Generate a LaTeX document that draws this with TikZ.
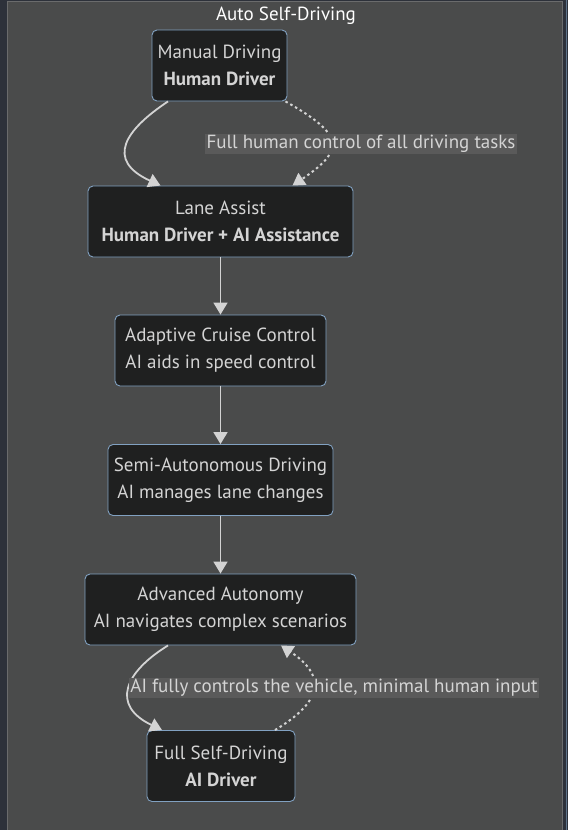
\documentclass[tikz,border=0pt]{standalone}
\usepackage{fontspec}
\setmainfont{PT Sans}
\usetikzlibrary{arrows.meta,calc}
\definecolor{outerbg}{HTML}{2D313A}
\definecolor{clusterbg}{HTML}{4A4B4B}
\definecolor{clusterline}{HTML}{6A6B6C}
\definecolor{nodefill}{HTML}{1F2020}
\definecolor{nodeline}{HTML}{81A1C1}
\definecolor{txt}{HTML}{D4D4D4}
\definecolor{edgecol}{HTML}{D3D3D3}
\definecolor{lblbg}{HTML}{5A5A5A}
\tikzset{
  stage/.style={draw=nodeline, fill=nodefill, line width=0.9pt, rounded corners=5pt,
    text=txt, align=center, minimum height=71pt, inner sep=0pt,
    font=\fontsize{19}{27}\selectfont},
  elabel/.style={fill=lblbg, text=txt, inner sep=1.2pt, font=\fontsize{19}{21}\selectfont},
  link/.style={draw=edgecol, line width=1.8pt, -{Triangle[length=12pt,width=14pt]}},
  dotlink/.style={link, line width=2pt, dash pattern=on 2.5pt off 3pt},
}
\begin{document}
\begin{tikzpicture}[x=1pt,y=-1pt]
\useasboundingbox (0,0) rectangle (568,830);
\fill[outerbg] (0,0) rectangle (568,830);
\draw[clusterline, fill=clusterbg, line width=1pt] (7,1) rectangle (562,835);
\draw[nodeline!60!outerbg, line width=1pt] (566,0) -- (566,830);
\node[text=white, font=\fontsize{19}{21}\selectfont] (title) at (286,15.5) {Auto Self-Driving};

\node[stage, minimum width=135pt] (A) at (219.5,65.5) {Manual Driving\\\textbf{Human Driver}};
\node[stage, minimum width=265pt] (B) at (220.5,221.5) {Lane Assist\\\textbf{Human Driver + AI Assistance}};
\node[stage, minimum width=211pt] (C) at (220.5,350.5) {Adaptive Cruise Control\\AI aids in speed control};
\node[stage, minimum width=225pt] (D) at (220.5,480) {Semi-Autonomous Driving\\AI manages lane changes};
\node[stage, minimum width=271pt] (E) at (220.5,609.5) {Advanced Autonomy\\AI navigates complex scenarios};
\node[stage, minimum width=148pt] (F) at (221,766) {Full Self-Driving\\\textbf{AI Driver}};

\draw[link] ($(A.south)+(-51.5,0)$) .. controls (125,130) and (105,160) .. ($(B.north)+(-60,0)$);
\draw[dotlink] ($(A.south)+(66,0)$) .. controls (345,135) and (345,150) .. ($(B.north)+(72,0)$);
\node[elabel] (L1) at (361,144) {Full human control of all driving tasks};

\draw[link] (B) -- (C);
\draw[link] (C) -- (D);
\draw[link] (D) -- (E);

\draw[link] ($(E.south)+(-52.5,0)$) .. controls (125,672) and (110,705) .. ($(F.north)+(-59,0)$);
\draw[dotlink] ($(F.north)+(54,0)$) .. controls (325,700) and (325,675) .. ($(E.south)+(60.5,0)$);
\node[elabel] (L2) at (334,688) {AI fully controls the vehicle, minimal human input};
\end{tikzpicture}
\end{document}
